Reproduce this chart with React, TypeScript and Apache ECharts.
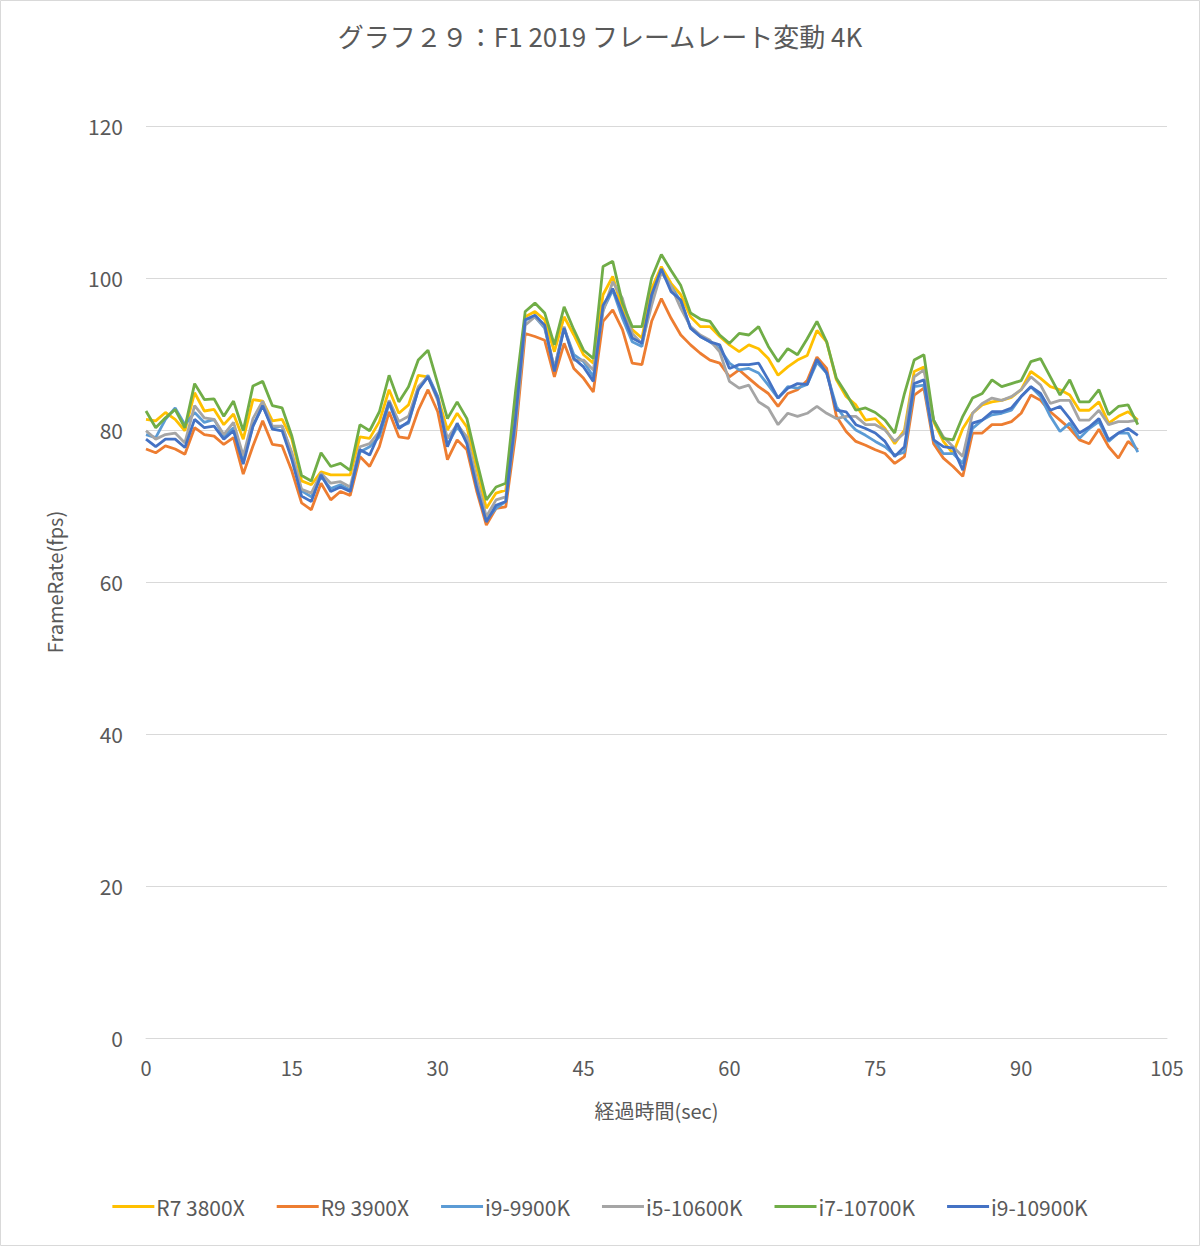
import React, { useEffect, useRef } from "react";
import * as echarts from "echarts";

const TITLE = "グラフ２９：F1 2019 フレームレート変動 4K";
const X_NAME = "経過時間(sec)";
const Y_NAME = "FrameRate(fps)";
const SERIES_NAMES = ["R7 3800X", "R9 3900X", "i9-9900K", "i5-10600K", "i7-10700K", "i9-10900K"];
const COLORS = ["#FFC000", "#ED7D31", "#5B9BD5", "#A5A5A5", "#70AD47", "#4472C4"];

const R7_3800X = [
  81.4, 81.2, 82.3, 81.4, 79.9, 84.9, 82.5, 82.7, 80.7, 82.1, 78.8, 84.0, 83.8, 81.2, 81.4, 78.8, 73.3,
  72.8, 74.5, 74.1, 74.1, 74.1, 79.1, 78.9, 81.1, 85.3, 82.2, 83.3, 87.2, 87.0, 84.4, 80.0, 82.2, 80.4,
  75.0, 69.7, 71.7, 72.1, 83.0, 94.9, 95.6, 94.5, 90.3, 94.9, 92.5, 89.9, 88.8, 97.8, 100.2, 95.8, 93.2,
  92.1, 98.6, 101.5, 99.3, 97.8, 94.9, 93.6, 93.6, 92.3, 91.2, 90.3, 91.2, 90.7, 89.4, 87.2, 88.3, 89.2,
  89.8, 93.1, 91.6, 86.6, 84.4, 83.3, 81.3, 81.5, 80.2, 78.2, 80.0, 87.7, 88.3, 81.1, 78.5, 76.9, 80.2,
  82.2, 83.3, 83.7, 83.9, 84.3, 85.3, 87.7, 86.8, 85.7, 85.3, 84.6, 82.6, 82.6, 83.7, 80.9, 81.8, 82.4, 81.3,
];
const R9_3900X = [
  77.5, 77.0, 77.9, 77.5, 76.8, 80.3, 79.4, 79.2, 78.1, 79.0, 74.2, 77.9, 81.2, 78.1, 77.9, 74.6, 70.4,
  69.5, 73.0, 70.8, 71.9, 71.4, 76.5, 75.2, 77.8, 82.4, 79.1, 78.9, 82.6, 85.3, 82.4, 76.1, 78.7, 77.4,
  72.0, 67.5, 69.7, 69.9, 79.3, 92.7, 92.3, 91.8, 87.0, 91.4, 88.1, 86.8, 85.0, 94.3, 95.8, 93.2, 88.8,
  88.6, 94.3, 97.3, 94.7, 92.5, 91.2, 90.1, 89.2, 88.8, 87.0, 87.9, 86.8, 85.7, 84.8, 83.1, 84.8, 85.3,
  86.5, 89.6, 88.1, 81.8, 79.8, 78.5, 78.0, 77.4, 76.9, 75.6, 76.5, 84.6, 85.5, 78.2, 76.3, 75.2, 73.9,
  79.6, 79.6, 80.7, 80.7, 81.1, 82.2, 84.6, 83.9, 82.4, 81.3, 80.2, 78.7, 78.2, 80.1, 77.8, 76.3, 78.5, 77.4,
];
const I9_9900K = [
  79.4, 79.0, 81.4, 82.9, 80.7, 82.3, 81.0, 81.4, 79.2, 80.3, 76.1, 80.5, 83.2, 80.3, 80.5, 76.8, 72.0,
  71.2, 73.9, 72.3, 72.8, 72.1, 77.1, 77.8, 79.1, 83.5, 80.4, 80.9, 85.3, 87.2, 84.4, 78.0, 80.4, 78.7,
  73.0, 68.2, 69.7, 70.6, 81.1, 94.5, 94.9, 93.4, 88.1, 93.4, 89.9, 89.0, 87.0, 95.8, 98.4, 94.7, 91.6,
  91.0, 97.3, 100.8, 98.9, 96.9, 93.4, 92.3, 91.6, 90.7, 88.8, 87.9, 88.1, 87.5, 85.9, 84.2, 85.7, 85.5,
  86.0, 88.9, 87.5, 83.1, 81.3, 80.0, 79.3, 78.5, 77.8, 76.7, 77.1, 85.7, 85.9, 78.7, 76.9, 76.9, 75.6,
  80.2, 81.3, 82.0, 82.2, 82.6, 84.4, 85.7, 84.4, 81.8, 79.8, 80.9, 78.9, 80.2, 81.1, 78.5, 79.6, 79.6, 77.1,
];
const I5_10600K = [
  79.9, 78.8, 79.4, 79.6, 78.3, 83.2, 81.6, 81.4, 79.4, 81.0, 76.6, 81.5, 83.8, 80.5, 80.5, 77.0, 72.2,
  71.7, 74.3, 73.0, 73.2, 72.5, 77.8, 78.2, 79.8, 83.9, 81.1, 81.8, 85.7, 87.0, 83.9, 78.9, 80.7, 79.1,
  73.5, 68.6, 70.8, 71.2, 80.5, 93.8, 94.9, 93.6, 88.1, 93.6, 89.2, 89.2, 87.9, 95.6, 99.5, 97.3, 92.7,
  91.4, 96.4, 100.8, 98.9, 96.0, 93.6, 92.5, 91.8, 90.3, 86.4, 85.5, 85.9, 83.7, 82.9, 80.7, 82.2, 81.8,
  82.2, 83.1, 82.2, 81.5, 81.8, 81.8, 80.7, 80.7, 80.0, 78.5, 79.6, 87.0, 87.9, 81.3, 79.1, 77.8, 76.5,
  82.2, 83.5, 84.2, 83.9, 84.4, 85.3, 87.0, 85.9, 83.5, 83.9, 83.9, 81.3, 81.3, 82.6, 80.7, 81.1, 81.1, 81.3,
];
const I7_10700K = [
  82.5, 80.3, 81.6, 82.7, 80.3, 86.1, 84.0, 84.1, 81.8, 83.8, 79.9, 85.8, 86.4, 83.2, 82.9, 79.2, 74.0,
  73.3, 77.0, 75.2, 75.6, 74.7, 80.7, 79.9, 82.4, 87.2, 83.7, 85.7, 89.2, 90.5, 86.1, 81.5, 83.7, 81.5,
  76.0, 70.8, 72.5, 73.0, 85.0, 95.6, 96.7, 95.4, 91.2, 96.2, 93.2, 90.5, 89.4, 101.5, 102.2, 96.7, 93.6,
  93.6, 100.0, 103.1, 101.0, 99.0, 95.4, 94.6, 94.3, 92.5, 91.4, 92.7, 92.5, 93.6, 91.0, 89.0, 90.7, 89.9,
  92.0, 94.3, 91.6, 86.8, 84.8, 82.6, 82.9, 82.3, 81.3, 79.6, 84.8, 89.2, 89.9, 81.3, 78.9, 78.7, 81.8,
  84.2, 84.8, 86.6, 85.7, 86.1, 86.5, 89.0, 89.4, 87.0, 84.6, 86.6, 83.7, 83.7, 85.3, 82.0, 83.1, 83.3, 80.7,
];
const I9_10900K = [
  78.8, 77.8, 78.8, 78.8, 77.7, 81.4, 80.3, 80.5, 78.8, 79.9, 75.5, 80.5, 83.2, 80.1, 79.9, 76.1, 71.3,
  70.6, 74.1, 71.9, 72.5, 71.9, 77.4, 76.7, 79.6, 83.7, 80.2, 81.1, 85.3, 87.0, 84.2, 77.8, 80.9, 78.2,
  72.5, 67.9, 70.1, 70.6, 81.5, 94.5, 95.1, 93.8, 87.7, 93.4, 89.4, 88.3, 86.4, 96.4, 98.6, 95.4, 92.1,
  91.4, 97.8, 101.2, 98.2, 97.1, 93.4, 92.3, 91.6, 91.2, 88.1, 88.6, 88.6, 88.8, 86.6, 84.2, 85.5, 86.1,
  86.0, 89.3, 87.5, 82.6, 82.4, 80.7, 80.2, 79.6, 78.5, 76.5, 77.8, 86.1, 86.6, 78.7, 77.8, 77.6, 74.7,
  80.9, 81.3, 82.4, 82.4, 82.9, 84.4, 85.7, 84.8, 82.6, 83.1, 81.5, 79.6, 80.4, 81.5, 78.7, 79.6, 80.2, 79.3,
];

const SERIES_VALUES = [R7_3800X, R9_3900X, I9_9900K, I5_10600K, I7_10700K, I9_10900K];

const FONT = "'Noto Sans CJK JP', 'Noto Sans', sans-serif";
const TEXT_COLOR = "#595959";

export default function App() {
  const ref = useRef<HTMLDivElement>(null);

  useEffect(() => {
    document.body.style.margin = "0";
    if (!ref.current) return;
    const chart = echarts.init(ref.current, undefined, { renderer: "svg" });
    const series = SERIES_NAMES.map((name, si) => ({
      name,
      type: "line",
      data: SERIES_VALUES[si].map((v, i) => [i, v]),
      showSymbol: false,
      symbol: "none",
      lineStyle: { color: COLORS[si], width: 2.8 },
      itemStyle: { color: COLORS[si] },
      z: 2 + si,
    }));
    chart.setOption({
      animation: false,
      backgroundColor: "#ffffff",
      textStyle: { fontFamily: FONT },
      title: {
        text: TITLE,
        left: "center",
        top: 17,
        textStyle: { fontFamily: FONT, fontSize: 26, fontWeight: "normal", color: TEXT_COLOR },
      },
      graphic: [
        {
          type: "rect",
          shape: { x: 0.5, y: 0.5, width: 1199, height: 1245 },
          style: { fill: "none", stroke: "#d9d9d9", lineWidth: 1 },
          silent: true,
        },
      ],
      legend: {
        data: SERIES_NAMES,
        bottom: 24,
        left: "center",
        icon: "rect",
        itemWidth: 42,
        itemHeight: 3,
        itemGap: 32,
        textStyle: { fontFamily: FONT, fontSize: 21, color: TEXT_COLOR, padding: [0, 0, 0, -3] },
      },
      grid: { left: 146, right: 33, top: 126, bottom: 208, containLabel: false },
      xAxis: {
        type: "value",
        min: 0,
        max: 105,
        interval: 15,
        name: X_NAME,
        nameLocation: "middle",
        nameGap: 62,
        nameTextStyle: { fontFamily: FONT, fontSize: 20, color: TEXT_COLOR },
        axisLine: { show: true, lineStyle: { color: "#d9d9d9", width: 1 } },
        axisTick: { show: false },
        axisLabel: { fontFamily: FONT, fontSize: 20, color: TEXT_COLOR, margin: 19 },
        splitLine: { show: false },
      },
      yAxis: {
        type: "value",
        min: 0,
        max: 120,
        interval: 20,
        name: Y_NAME,
        nameLocation: "middle",
        nameRotate: 90,
        nameGap: 82,
        nameTextStyle: { fontFamily: FONT, fontSize: 20, color: TEXT_COLOR },
        axisLine: { show: false },
        axisTick: { show: false },
        axisLabel: { fontFamily: FONT, fontSize: 21, color: TEXT_COLOR, margin: 23 },
        splitLine: { show: true, lineStyle: { color: "#d9d9d9", width: 1 } },
      },
      series,
    });
    return () => chart.dispose();
  }, []);

  return (
    <div
      ref={ref}
      style={{ position: "absolute", left: 0, top: 0, width: 1200, height: 1246 }}
    />
  );
}
